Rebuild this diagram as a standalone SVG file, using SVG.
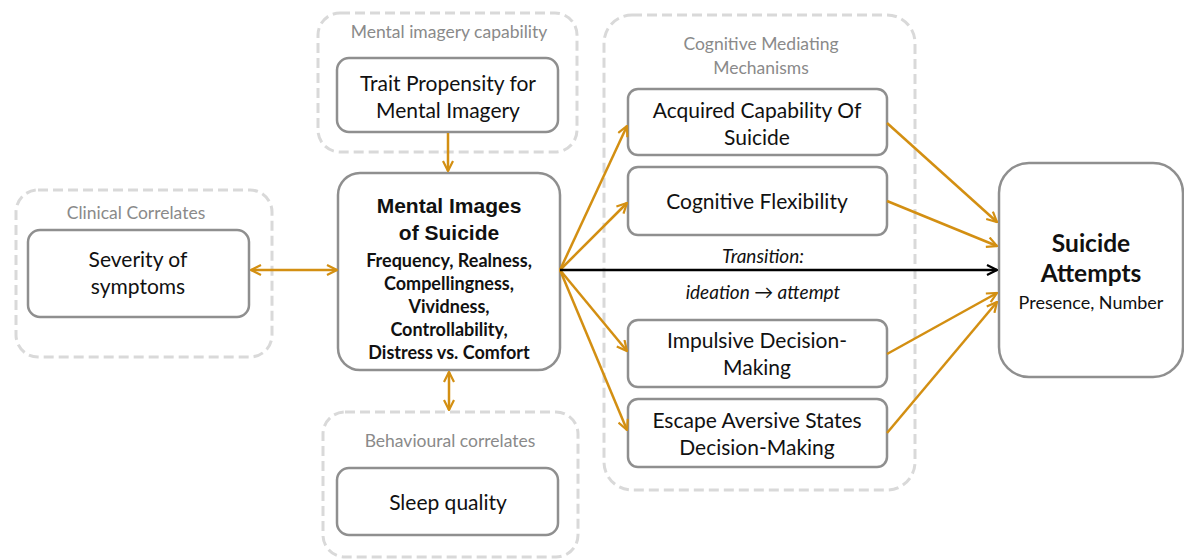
<svg xmlns="http://www.w3.org/2000/svg" width="1184" height="559" viewBox="0 0 1184 559">
<style>
.grp{fill:none;stroke:#d9d9d9;stroke-width:3;stroke-dasharray:10 5}
.box{fill:#fff;stroke:#8f8f8f;stroke-width:2.5}
.glab{font-family:Lato,"Open Sans",sans-serif;font-size:17.5px;fill:#8a8a8a;text-anchor:middle}
.t{font-family:Lato,"Open Sans",sans-serif;font-size:21px;fill:#111;text-anchor:middle}
.b{font-family:"Liberation Sans",Arial,sans-serif;font-weight:bold;font-size:21px;fill:#111;text-anchor:middle}
.s{font-family:Lato,"Open Sans",sans-serif;font-weight:bold;font-size:18px;fill:#111;text-anchor:middle}
.i{font-family:Lato,"Open Sans",sans-serif;font-style:italic;font-size:19px;fill:#111;text-anchor:middle}
.o{stroke:#d38f12;stroke-width:2.5;fill:none}
.k{stroke:#000;stroke-width:2.5;fill:none}
</style>
<defs>
<marker id="ao" viewBox="0 0 12 12" refX="11" refY="6" markerWidth="12" markerHeight="12" markerUnits="userSpaceOnUse" orient="auto-start-reverse"><path d="M1,1 L11,6 L1,11" fill="none" stroke="#d38f12" stroke-width="2.2"/></marker>
<marker id="ak" viewBox="0 0 12 12" refX="11" refY="6" markerWidth="12" markerHeight="12" markerUnits="userSpaceOnUse" orient="auto"><path d="M1,1 L11,6 L1,11" fill="none" stroke="#000" stroke-width="2.2"/></marker>
</defs>

<g id="clinical">
<rect class="grp" x="16" y="190" width="256" height="167" rx="22"/>
<text class="glab" x="136" y="219">Clinical Correlates</text>
<g id="severity"><rect class="box" x="28" y="230" width="221" height="87" rx="12"/>
<text class="t" x="138" y="267">Severity of</text>
<text class="t" x="138" y="294">symptoms</text></g>
</g>

<g id="imagery">
<rect class="grp" x="318" y="13" width="259" height="139" rx="22"/>
<text class="glab" x="449" y="38">Mental imagery capability</text>
<g id="trait"><rect class="box" x="337" y="58" width="221" height="74" rx="12"/>
<text class="t" x="448" y="91">Trait Propensity for</text>
<text class="t" x="448" y="118">Mental Imagery</text></g>
</g>

<g id="mental">
<rect class="box" x="338" y="173" width="222" height="197" rx="22"/>
<text class="b" x="449" y="213">Mental Images</text>
<text class="b" x="449" y="240">of Suicide</text>
<text class="s" x="449" y="267">Frequency, Realness,</text>
<text class="s" x="449" y="290">Compellingness,</text>
<text class="s" x="449" y="313">Vividness,</text>
<text class="s" x="449" y="336">Controllability,</text>
<text class="s" x="449" y="359">Distress vs. Comfort</text>
</g>

<g id="behavioural">
<rect class="grp" x="323" y="412" width="255" height="145" rx="22"/>
<text class="glab" x="450" y="447">Behavioural correlates</text>
<g id="sleep"><rect class="box" x="337" y="468" width="221" height="67" rx="12"/>
<text class="t" x="448" y="510">Sleep quality</text></g>
</g>

<g id="cognitive">
<rect class="grp" x="604" y="15" width="311" height="475" rx="28"/>
<text class="glab" x="761" y="50">Cognitive Mediating</text>
<text class="glab" x="761" y="74">Mechanisms</text>
<g id="acquired"><rect class="box" x="628" y="89" width="259" height="66" rx="10"/>
<text class="t" x="757" y="118">Acquired Capability Of</text>
<text class="t" x="757" y="145">Suicide</text></g>
<g id="flexibility"><rect class="box" x="628" y="167" width="259" height="68" rx="10"/>
<text class="t" x="757" y="209">Cognitive Flexibility</text></g>
<g id="impulsive"><rect class="box" x="628" y="320" width="259" height="67" rx="10"/>
<text class="t" x="757" y="348">Impulsive Decision-</text>
<text class="t" x="757" y="375">Making</text></g>
<g id="escape"><rect class="box" x="628" y="399" width="259" height="68" rx="10"/>
<text class="t" x="757" y="428">Escape Aversive States</text>
<text class="t" x="757" y="455">Decision-Making</text></g>
</g>

<g id="attempts">
<rect class="box" x="999" y="163" width="184" height="214" rx="30"/>
<text class="b" x="1091" y="252" style="font-family:Lato,sans-serif;font-size:24.5px">Suicide</text>
<text class="b" x="1091" y="282" style="font-family:Lato,sans-serif;font-size:24.5px">Attempts</text>
<text class="t" x="1091" y="309" style="font-size:18px">Presence, Number</text>
</g>

<g id="connectors">
<line class="o" x1="251" y1="270" x2="337" y2="270" marker-start="url(#ao)" marker-end="url(#ao)"/>
<line class="o" x1="448" y1="133" x2="448" y2="171" marker-end="url(#ao)"/>
<line class="o" x1="449" y1="372" x2="449" y2="410" marker-start="url(#ao)" marker-end="url(#ao)"/>
<line class="o" x1="560" y1="270" x2="627" y2="126" marker-end="url(#ao)"/>
<line class="o" x1="560" y1="270" x2="627" y2="203" marker-end="url(#ao)"/>
<line class="o" x1="560" y1="270" x2="627" y2="351" marker-end="url(#ao)"/>
<line class="o" x1="560" y1="270" x2="627" y2="430" marker-end="url(#ao)"/>
<line class="k" x1="560" y1="270" x2="997" y2="270" marker-end="url(#ak)"/>
<line class="o" x1="887" y1="123" x2="997" y2="222" marker-end="url(#ao)"/>
<line class="o" x1="887" y1="201" x2="997" y2="246" marker-end="url(#ao)"/>
<line class="o" x1="887" y1="354" x2="997" y2="293" marker-end="url(#ao)"/>
<line class="o" x1="887" y1="433" x2="997" y2="302" marker-end="url(#ao)"/>
<text class="i" x="763" y="263">Transition:</text>
<text class="i" x="763" y="299">ideation → attempt</text>
</g>
</svg>
